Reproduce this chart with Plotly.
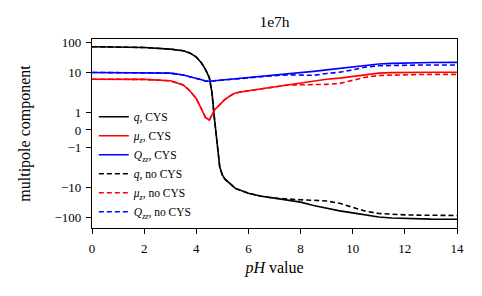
import numpy as np
import plotly.graph_objects as go

# ---- data ----
ph = [0, 1, 2, 3, 3.5, 3.75, 4, 4.2, 4.35, 4.5, 4.6, 4.7, 4.8, 4.9, 5.0, 5.1,
      5.35, 5.5, 6, 6.5, 7, 7.5, 8, 8.5, 9, 9.5, 10, 10.5, 11, 11.5, 12, 12.5, 13, 14]

q_cys = [72, 71, 68, 60, 53, 45, 33, 21, 13, 7, 2.3, 0.6, -0.6, -2.2, -4, -5.5,
         -8.5, -11, -16, -20, -23, -26, -31, -40, -50, -60, -70, -82, -95, -103,
         -108, -111, -112, -113]
mu_cys = [6.2, 6.2, 6.1, 5.5, 4.0, 2.6, 1.8, 1.2, 0.72, 0.57, 0.85, 1.15, 1.3, 1.45,
          1.6, 1.75, 2.0, 2.2, 2.6, 3.0, 3.5, 4.2, 4.8, 5.5, 6.2, 6.7, 7.5, 8.7, 9.8,
          10.2, 10.4, 10.5, 10.5, 10.5]
qzz_cys = [10.3, 10.3, 10.2, 9.8, 8.5, 7.6, 6.6, 5.9, 5.4, 5.2, 5.3, 5.5, 5.6, 5.7,
           5.8, 5.9, 6.2, 6.4, 6.9, 7.5, 8.1, 9.0, 10, 11.2, 12.5, 14, 15.5, 17.5,
           19.5, 20.5, 21.2, 21.6, 21.8, 22]

q_no = [72, 71, 68, 60, 53, 45, 33, 21, 13, 7, 2.3, 0.6, -0.6, -2.2, -4, -5.5,
        -8.5, -11, -16, -20, -23, -25, -26, -27, -28.5, -34, -45, -62, -73, -79,
        -81, -83, -84, -85]
mu_no = [6.2, 6.2, 6.1, 5.5, 4.0, 2.6, 1.8, 1.2, 0.72, 0.57, 0.85, 1.15, 1.3, 1.45,
         1.6, 1.75, 2.0, 2.2, 2.6, 3.0, 3.5, 4.0, 4.05, 4.1, 4.2, 4.5, 5.6, 7.2, 8.2,
         8.5, 8.7, 8.8, 8.9, 8.9]
qzz_no = [10.3, 10.3, 10.2, 9.8, 8.5, 7.6, 6.6, 5.9, 5.4, 5.2, 5.3, 5.5, 5.6, 5.7,
          5.8, 5.9, 6.2, 6.4, 6.9, 7.5, 8.1, 8.6, 8.4, 8.3, 9.5, 10.5, 12.5, 15.5,
          17, 17.5, 17.8, 18, 18, 18]

y_ticks = [100, 10, 1, 0, -1, -10, -100]
y_tick_text = ["100", "10", "1", "0", "\u22121", "\u221210", "\u2212100"]
x_ticks = [0, 2, 4, 6, 8, 10, 12, 14]

# symmetric-log transform (approximates matplotlib symlog)
LT = 2.08
LS = 1.19


def symlog(v):
    v = np.asarray(v, dtype=float)
    a = np.abs(v)
    out = np.where(a <= LT, v * LS, np.sign(v) * LT * (LS + np.log10(np.maximum(a, 1e-12) / LT)))
    return out


FONT = "Liberation Serif"

series = [
    ("<i>q</i>, CYS", q_cys, "black", "solid"),
    ("<i>\u03bc<sub>z</sub></i>, CYS", mu_cys, "red", "solid"),
    ("<i>Q<sub>zz</sub></i>, CYS", qzz_cys, "blue", "solid"),
    ("<i>q</i>, no CYS", q_no, "black", "5px,3px"),
    ("<i>\u03bc<sub>z</sub></i>, no CYS", mu_no, "red", "5px,3px"),
    ("<i>Q<sub>zz</sub></i>, no CYS", qzz_no, "blue", "5px,3px"),
]

fig = go.Figure()
order = [3, 4, 5, 0, 1, 2]
traces = {}
for i in range(6):
    name, vals, col, dash = series[i]
    traces[i] = go.Scatter(x=ph, y=symlog(vals), mode="lines", name=name,
                           line=dict(color=col, width=1.6, dash=dash),
                           legendrank=i + 1)
for i in order:
    fig.add_trace(traces[i])

fig.update_layout(
    width=482, height=296,
    margin=dict(l=92, r=25, t=39, b=68),
    paper_bgcolor="white", plot_bgcolor="white",
    font=dict(family=FONT, size=13, color="black"),
    title=dict(text="1e7h", x=0.5, xref="paper", xanchor="center",
               y=1 - 22 / 296, yref="container", yanchor="middle",
               pad=dict(t=0, b=0), font=dict(size=15.5)),
    showlegend=True,
    legend=dict(x=0.005, y=0.665, xanchor="left", yanchor="top",
                bgcolor="rgba(255,255,255,0)", borderwidth=0,
                font=dict(size=11.5, family=FONT), tracegroupgap=0,
                itemwidth=30),
)

fig.update_xaxes(range=[0, 14], tickvals=x_ticks, ticktext=[str(t) for t in x_ticks],
                 showgrid=False, zeroline=False, showline=True, linecolor="black",
                 linewidth=1.2, mirror=True, ticks="outside", ticklen=5,
                 tickwidth=1.2, tickcolor="black", ticklabelstandoff=3,
                 title=dict(text="<i>pH</i> value", standoff=7, font=dict(size=16)))
fig.update_yaxes(range=[-6.68, 6.20], tickvals=list(symlog(y_ticks)), ticktext=y_tick_text,
                 showgrid=False, zeroline=False, showline=True, linecolor="black",
                 linewidth=1.2, mirror=True, ticks="outside", ticklen=5,
                 tickwidth=1.2, tickcolor="black", ticklabelstandoff=2,
                 title=dict(text="multipole component", standoff=19, font=dict(size=16)))

fig.write_html("out.html")
